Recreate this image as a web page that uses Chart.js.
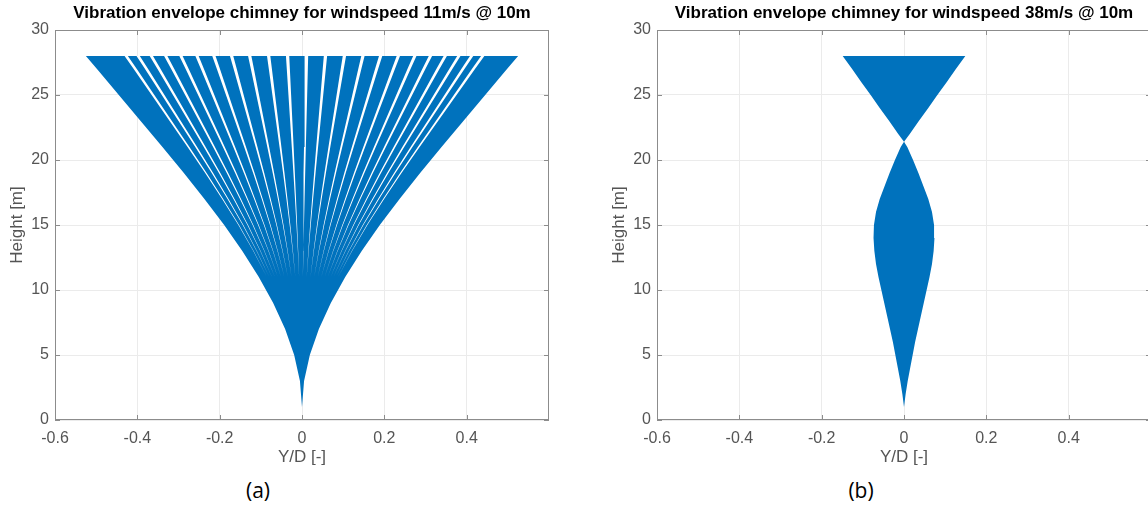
<!DOCTYPE html>
<html>
<head>
<meta charset="utf-8">
<script src="https://cdn.jsdelivr.net/npm/chart.js@4.4.1/dist/chart.umd.min.js"></script>
<style>
  body { margin: 0; background: #fff; overflow: hidden; }
  #page { position: relative; width: 1148px; height: 506px; overflow: hidden; }
  canvas { position: absolute; top: 0; }
  #chartA { left: 0; }
  #chartB { left: 602px; }
  .caption { position: absolute; top: 476px; font-family: 'Open Sans', 'Liberation Sans', sans-serif; font-size: 21px; color: #000; transform: translateX(-50%); }
</style>
</head>
<body>
<div id="page">
  <canvas id="chartA" width="574" height="470"></canvas>
  <canvas id="chartB" width="574" height="470"></canvas>
  <div class="caption" style="left:258px">(a)</div>
  <div class="caption" style="left:861px">(b)</div>
</div>
<script>
// chart values
var titles = ['Vibration envelope chimney for windspeed 11m/s @ 10m', 'Vibration envelope chimney for windspeed 38m/s @ 10m'];
var xTicks = [-0.6, -0.4, -0.2, 0, 0.2, 0.4];
var yTicks = [0, 5, 10, 15, 20, 25, 30];

// (a) half width of the envelope [Y/D] against height [m]
var heightA = [1, 3, 5, 7, 9, 11, 13, 15, 17, 19, 21, 23, 25, 27, 28];
var envelopeA = [0, 0.005, 0.019, 0.041, 0.070, 0.105, 0.145, 0.189, 0.237, 0.287, 0.339, 0.392, 0.445, 0.498, 0.525];
// (a) white gaps between the line bundles, position at the top (28 m)
var gapsA = [-0.427, -0.398, -0.366, -0.331, -0.294, -0.255, -0.214, -0.171, -0.127, -0.081, -0.035,
             0.011, 0.057, 0.103, 0.148, 0.191, 0.234, 0.274, 0.312, 0.348, 0.381, 0.412, 0.439];

// (b) half width of the envelope, node near 21.4 m
var heightB = [1, 2, 3, 4, 5, 6, 7, 8, 9, 10, 11, 12, 13, 14, 15, 16, 17, 18, 19, 20, 21, 21.4, 22, 23, 24, 25, 26, 27, 28];
var envelopeB = [0, 0.004, 0.009, 0.015, 0.021, 0.027, 0.034, 0.041, 0.048, 0.055, 0.062, 0.068, 0.072, 0.074, 0.073,
                 0.068, 0.059, 0.047, 0.035, 0.022, 0.008, 0, 0.014, 0.036, 0.059, 0.081, 0.104, 0.126, 0.149];

var blue = '#0072bd';
var gapWidth = 0.008;
var gapFrom = 11; // gaps close up below this height

Chart.defaults.font.family = "'Liberation Sans', Arial, sans-serif";

// closed outline: up the right side, down the left side
function outline(heights, half) {
  var pts = [];
  for (var i = 0; i < heights.length; i++) pts.push({x: half[i], y: heights[i]});
  for (var j = heights.length - 1; j >= 0; j--) pts.push({x: -half[j], y: heights[j]});
  return pts;
}

// thin wedge following the envelope shape, opening up towards the top
function wedge(heights, half, g) {
  var top = half[half.length - 1];
  var k0 = heights.indexOf(gapFrom);
  var f0 = half[k0];
  var left = [], right = [];
  for (var i = k0; i < heights.length; i++) {
    var c = g * half[i] / top;
    var w = gapWidth / 2 * (half[i] - f0) / (top - f0);
    left.push({x: c - w, y: heights[i]});
    right.unshift({x: c + w, y: heights[i]});
  }
  return left.concat(right);
}

function shapeSet(pts, color, order) {
  return {
    data: pts, showLine: true, fill: 'shape', backgroundColor: color,
    borderWidth: 0, pointRadius: 0, tension: 0, order: order
  };
}

// matlab style box with inward ticks
var boxPlugin = {
  id: 'box',
  afterDatasetsDraw: function(chart) {
    var ctx = chart.ctx, a = chart.chartArea;
    var xs = chart.scales.x, ys = chart.scales.y;
    ctx.save();
    ctx.strokeStyle = '#8c8c8c';
    ctx.lineWidth = 1;
    ctx.strokeRect(a.left + 0.5, a.top + 0.5, a.right - a.left - 1, a.bottom - a.top - 1);
    ctx.beginPath();
    xTicks.forEach(function(v) {
      var px = Math.round(xs.getPixelForValue(v)) + 0.5;
      ctx.moveTo(px, a.bottom); ctx.lineTo(px, a.bottom - 5);
      ctx.moveTo(px, a.top); ctx.lineTo(px, a.top + 5);
    });
    yTicks.forEach(function(v) {
      var py = Math.round(ys.getPixelForValue(v)) + 0.5;
      ctx.moveTo(a.left, py); ctx.lineTo(a.left + 5, py);
      ctx.moveTo(a.right, py); ctx.lineTo(a.right - 5, py);
    });
    ctx.stroke();
    ctx.restore();
  }
};

function makeChart(id, title, datasets) {
  return new Chart(document.getElementById(id), {
    type: 'scatter',
    data: {datasets: datasets},
    plugins: [boxPlugin],
    options: {
      responsive: false,
      animation: false,
      events: [],
      layout: {padding: {left: 0, right: 25, top: 0, bottom: 0}},
      plugins: {
        legend: {display: false},
        tooltip: {enabled: false},
        title: {
          display: true, text: title, color: '#000', fullSize: false,
          font: {size: 17, weight: 'bold'},
          padding: {top: 3, bottom: 6.6}
        }
      },
      scales: {
        x: {
          type: 'linear', min: -0.6, max: 0.6,
          afterBuildTicks: function(s) { s.ticks = xTicks.map(function(v) { return {value: v}; }); },
          afterFit: function(s) { s.height = 50; },
          grid: {color: '#ebebeb', drawTicks: false},
          border: {display: false},
          ticks: {color: '#555', font: {size: 16}, padding: 9, maxRotation: 0,
                  callback: function(v) { return String(v); }},
          title: {display: true, text: 'Y/D [-]', color: '#555', font: {size: 17}, padding: {top: 0, bottom: 2}}
        },
        y: {
          type: 'linear', min: 0, max: 30,
          afterBuildTicks: function(s) { s.ticks = yTicks.map(function(v) { return {value: v}; }); },
          afterFit: function(s) { s.width = 55; },
          grid: {color: '#ebebeb', drawTicks: false},
          border: {display: false},
          ticks: {color: '#555', font: {size: 16}, padding: 6},
          title: {display: true, text: 'Height [m]', color: '#555', font: {size: 17}, padding: {top: 7, bottom: 0}}
        }
      }
    }
  });
}

var setsA = gapsA.map(function(g) { return shapeSet(wedge(heightA, envelopeA, g), '#ffffff', 0); });
setsA.push(shapeSet(outline(heightA, envelopeA), blue, 1));

makeChart('chartA', titles[0], setsA);
makeChart('chartB', titles[1], [shapeSet(outline(heightB, envelopeB), blue, 1)]);
</script>
</body>
</html>
